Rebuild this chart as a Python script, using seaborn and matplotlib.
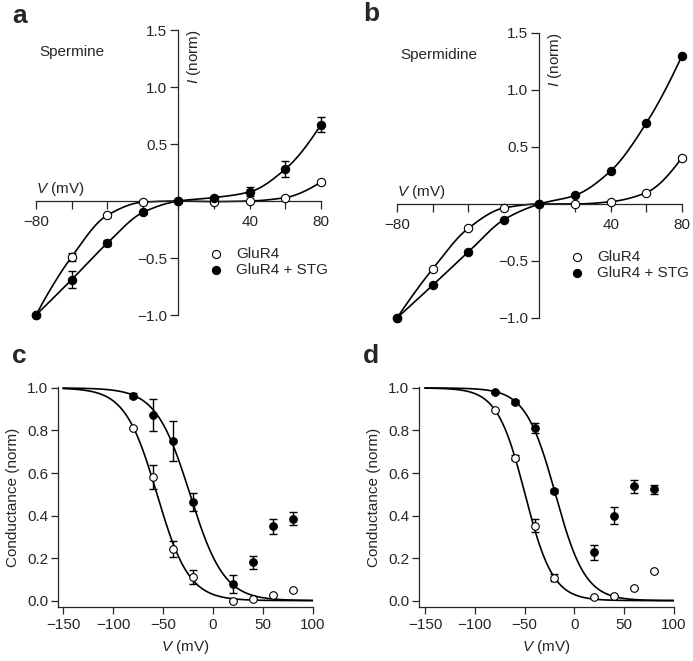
import numpy as np
import matplotlib
matplotlib.use("Agg")
import matplotlib.pyplot as plt
import seaborn as sns

# ---------------- data ----------------
V_iv = [-80, -60, -40, -20, 0, 20, 40, 60, 80]

# panel a: Spermine I-V
a_open = [-1.0, -0.49, -0.125, -0.01, 0.0, -0.005, 0.0, 0.03, 0.165]
a_open_err = [0.0, 0.035, 0.015, 0.0, 0.0, 0.01, 0.0, 0.0, 0.012]
a_fill = [-1.0, -0.69, -0.37, -0.10, 0.0, 0.03, 0.08, 0.28, 0.67]
a_fill_err = [0.0, 0.075, 0.025, 0.01, 0.0, 0.01, 0.04, 0.07, 0.065]

# panel b: Spermidine I-V
b_open = [-1.0, -0.57, -0.214, -0.035, 0.0, 0.0, 0.02, 0.10, 0.405]
b_open_err = [0.0, 0.01, 0.01, 0.0, 0.0, 0.0, 0.0, 0.0, 0.02]
b_fill = [-1.0, -0.713, -0.422, -0.138, 0.0, 0.076, 0.29, 0.71, 1.30]
b_fill_err = [0.0, 0.01, 0.01, 0.0, 0.0, 0.0, 0.0, 0.0, 0.0]

V_g = [-80, -60, -40, -20, 20, 40, 60, 80]

# panel c: Spermine conductance
c_open = [0.8125, 0.58, 0.244, 0.11, 0.0, 0.008, 0.025, 0.052]
c_open_err = [0.0, 0.057, 0.037, 0.034, 0.0, 0.0, 0.0, 0.0]
c_fill = [0.964, 0.872, 0.75, 0.4625, 0.078, 0.18, 0.35, 0.386]
c_fill_err = [0.01, 0.075, 0.095, 0.043, 0.043, 0.03, 0.035, 0.03]

# panel d: Spermidine conductance
d_open = [0.894, 0.672, 0.353, 0.108, 0.016, 0.02, 0.06, 0.14]
d_open_err = [0.0, 0.012, 0.03, 0.015, 0.0, 0.0, 0.0, 0.0]
d_fill = [0.981, 0.934, 0.811, 0.514, 0.227, 0.40, 0.5375, 0.523]
d_fill_err = [0.005, 0.01, 0.025, 0.01, 0.035, 0.04, 0.03, 0.02]

# Boltzmann fit parameters (V_half, slope k)
c_open_fit = (-56.0, 16.0)
c_fill_fit = (-23.0, 17.0)
d_open_fit = (-49.5, 14.0)
d_fill_fit = (-19.0, 15.0)

legend_labels = ["GluR4", "GluR4 + STG"]

# ---------------- style ----------------
sns.set_theme(style="ticks")
plt.rcParams["font.family"] = ["Liberation Sans", "DejaVu Sans"]
plt.rcParams["mathtext.fontset"] = "custom"
plt.rcParams["mathtext.rm"] = "Liberation Sans"
plt.rcParams["mathtext.it"] = "Liberation Sans:italic"
plt.rcParams["axes.linewidth"] = 0.9
FS = 11


def pchip(x, y, n=300):
    x = np.asarray(x, float)
    y = np.asarray(y, float)
    h = np.diff(x)
    d = np.diff(y) / h
    m = np.zeros_like(y)
    for k in range(1, len(x) - 1):
        if d[k - 1] * d[k] > 0:
            w1 = 2 * h[k] + h[k - 1]
            w2 = h[k] + 2 * h[k - 1]
            m[k] = (w1 + w2) / (w1 / d[k - 1] + w2 / d[k])
    m[0] = ((2 * h[0] + h[1]) * d[0] - h[0] * d[1]) / (h[0] + h[1])
    if np.sign(m[0]) != np.sign(d[0]):
        m[0] = 0
    m[-1] = ((2 * h[-1] + h[-2]) * d[-1] - h[-1] * d[-2]) / (h[-1] + h[-2])
    if np.sign(m[-1]) != np.sign(d[-1]):
        m[-1] = 0
    xs = np.linspace(x[0], x[-1], n)
    idx = np.clip(np.searchsorted(x, xs) - 1, 0, len(x) - 2)
    t = (xs - x[idx]) / h[idx]
    h00 = 2 * t**3 - 3 * t**2 + 1
    h10 = t**3 - 2 * t**2 + t
    h01 = -2 * t**3 + 3 * t**2
    h11 = t**3 - t**2
    ys = h00 * y[idx] + h10 * h[idx] * m[idx] + h01 * y[idx + 1] + h11 * h[idx] * m[idx + 1]
    return xs, ys


def boltz(vh, k, lo=-150, hi=100, n=400):
    v = np.linspace(lo, hi, n)
    return v, 1.0 / (1.0 + np.exp((v - vh) / k))


def draw_points(ax, x, y, err, filled, s=32):
    ax.errorbar(x, y, yerr=err, fmt="none", ecolor="black", elinewidth=1.0,
                capsize=2.8, capthick=1.0, zorder=3, clip_on=False)
    sns.scatterplot(x=x, y=y, ax=ax, s=s, marker="o",
                    color="black" if filled else "white", edgecolor="black",
                    linewidth=0.8, zorder=4, clip_on=False, legend=False)


def draw_curve(ax, xs, ys):
    sns.lineplot(x=xs, y=ys, ax=ax, color="black", linewidth=1.2,
                 estimator=None, sort=False, zorder=2)


fig = plt.figure(figsize=(6.93, 6.61), dpi=100)

# ---------------- I-V panels ----------------
def iv_panel(rect, o, oe, f, fe, name):
    ax = fig.add_axes(rect)
    xs, ys = pchip(V_iv, o)
    draw_curve(ax, xs, ys)
    xs, ys = pchip(V_iv, f)
    draw_curve(ax, xs, ys)
    draw_points(ax, V_iv, o, oe, False, s=36)
    draw_points(ax, V_iv, f, fe, True, s=36)
    ax.set_xlim(-85, 85)
    ax.set_ylim(-1.05, 1.55)
    for sp in ["top", "right"]:
        ax.spines[sp].set_visible(False)
    ax.spines["left"].set_position(("data", 0))
    ax.spines["bottom"].set_position(("data", 0))
    ax.spines["left"].set_bounds(-1.0, 1.5)
    ax.spines["bottom"].set_bounds(-80, 80)
    ax.set_xticks(V_iv)
    ax.set_xticklabels(["\u221280", "", "", "", "", "", "40", "", "80"])
    ax.set_yticks([-1.0, -0.5, 0.5, 1.0, 1.5])
    ax.set_yticklabels(["\u22121.0", "\u22120.5", "0.5", "1.0", "1.5"])
    ax.tick_params(axis="x", direction="out", length=6, width=0.9, pad=4, labelsize=FS)
    ax.tick_params(axis="y", direction="out", length=6, width=0.9, pad=2, labelsize=FS)
    ax.set_xlabel("")
    ax.set_ylabel("")
    ax.text(-80, 0.105, "$\\it{V}$ (mV)", ha="left", va="center", fontsize=FS)
    ax.text(8.5, 1.5, "$\\it{I}$ (norm)", ha="center", va="top", rotation=90, fontsize=FS)
    ax.text(-78, 1.31, name, ha="left", va="center", fontsize=FS)
    h1 = ax.scatter([], [], s=34, c="white", edgecolors="black", linewidths=0.8)
    h2 = ax.scatter([], [], s=34, c="black", edgecolors="black", linewidths=0.8)
    ax.legend([h1, h2], legend_labels, loc="upper left", bbox_to_anchor=(0.598, 0.248),
              frameon=False, fontsize=FS, handlelength=1.0, handletextpad=0.85,
              borderpad=0, borderaxespad=0, labelspacing=0.1)
    return ax


iv_panel([0.0391, 0.5148, 0.4369, 0.4484], a_open, a_open_err, a_fill, a_fill_err, "Spermine")
iv_panel([0.5600, 0.5103, 0.4369, 0.4484], b_open, b_open_err, b_fill, b_fill_err, "Spermidine")

# ---------------- conductance panels ----------------
def g_panel(rect, o, oe, f, fe, fo, ff, xlo):
    ax = fig.add_axes(rect)
    v, g = boltz(*fo)
    draw_curve(ax, v, g)
    v, g = boltz(*ff)
    draw_curve(ax, v, g)
    draw_points(ax, V_g, o, oe, False, s=30)
    draw_points(ax, V_g, f, fe, True, s=30)
    ax.set_xlim(xlo, 100)
    ax.set_ylim(-0.03, 1.005)
    for sp in ["top", "right"]:
        ax.spines[sp].set_visible(False)
    ax.set_xticks([-150, -100, -50, 0, 50, 100])
    ax.set_xticklabels(["\u2212150", "\u2212100", "\u221250", "0", "50", "100"])
    ax.set_yticks([0.0, 0.2, 0.4, 0.6, 0.8, 1.0])
    ax.set_yticklabels(["0.0", "0.2", "0.4", "0.6", "0.8", "1.0"])
    ax.tick_params(axis="x", direction="out", length=5, width=0.9, pad=3, labelsize=FS)
    ax.tick_params(axis="y", direction="out", length=5, width=0.9, pad=2, labelsize=FS)
    ax.set_xlabel("$\\it{V}$ (mV)", fontsize=FS, labelpad=4)
    ax.set_ylabel("Conductance (norm)", fontsize=FS, labelpad=5)
    return ax


g_panel([0.0837, 0.0817, 0.368, 0.333], c_open, c_open_err, c_fill, c_fill_err,
        c_open_fit, c_fill_fit, -155)
g_panel([0.6046, 0.0817, 0.368, 0.333], d_open, d_open_err, d_fill, d_fill_err,
        d_open_fit, d_fill_fit, -156)

# panel letters
for lab, x, y in [("a", 12, 23), ("b", 363, 21), ("c", 12, 363), ("d", 363, 363)]:
    fig.text(x / 693, 1 - y / 661, lab, fontsize=19, fontweight="bold",
             ha="left", va="baseline")

fig.savefig("out.png", dpi=100)
